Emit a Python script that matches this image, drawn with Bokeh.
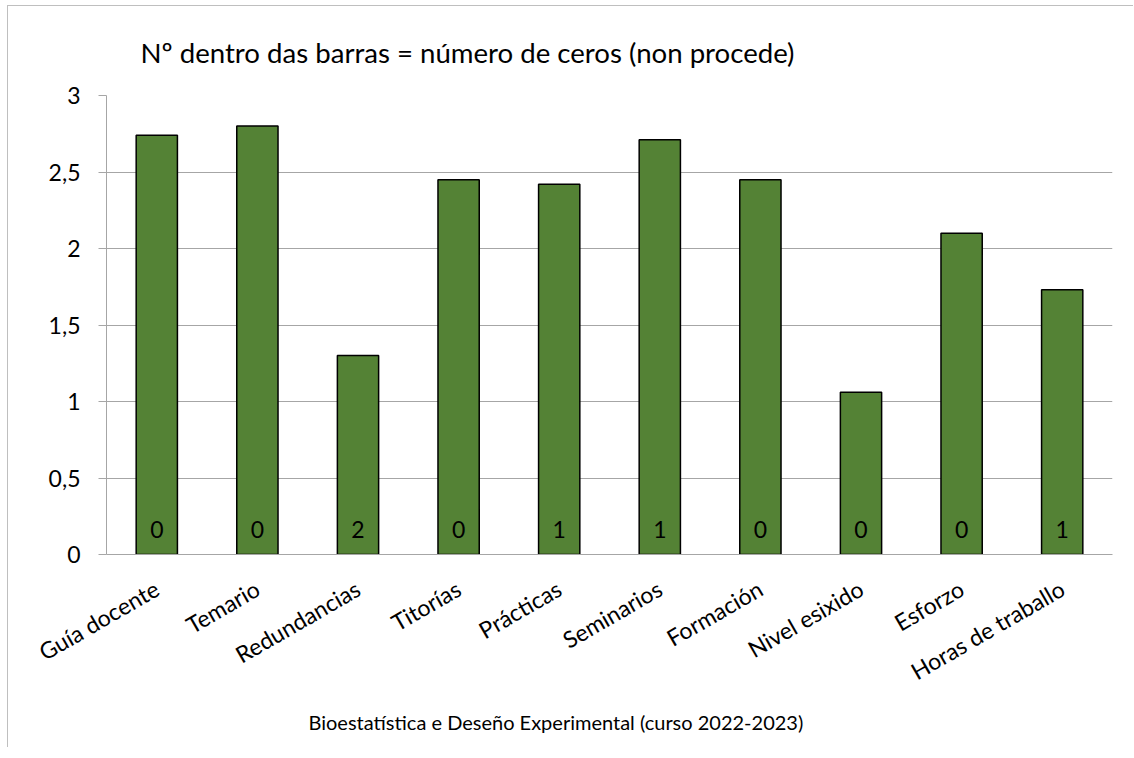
import math
from bokeh.plotting import figure
from bokeh.models import ColumnDataSource, LabelSet, Title, FactorRange, Range1d, FixedTicker
from bokeh.core.properties import value
from bokeh.embed import file_html
from bokeh.resources import INLINE

categories = ["Guía docente", "Temario", "Redundancias", "Titorías", "Prácticas",
              "Seminarios", "Formación", "Nivel esixido", "Esforzo", "Horas de traballo"]
values = [2.74, 2.80, 1.30, 2.45, 2.42, 2.71, 2.45, 1.06, 2.10, 1.73]
zeros = [0, 0, 2, 0, 1, 1, 0, 0, 0, 1]
ytick_values = [0, 0.5, 1, 1.5, 2, 2.5, 3]
ytick_labels = ["0", "0,5", "1", "1,5", "2", "2,5", "3"]
title_text = "Nº dentro das barras = número de ceros (non procede)"
xaxis_title = "Bioestatística e Deseño Experimental (curso 2022-2023)"

FONT = "Lato"
FS = "23px"

src = ColumnDataSource(dict(
    cat=categories, val=values, zeros=[str(z) for z in zeros], base=[0] * len(categories)))

p = figure(x_range=FactorRange(factors=categories, range_padding=0),
           y_range=Range1d(0, 3), width=1126, height=742,
           output_backend="svg", toolbar_location=None,
           min_border_left=98, min_border_right=22, min_border_top=88, min_border_bottom=194)

p.vbar(x="cat", top="val", width=0.41, source=src,
       fill_color="#548235", line_color="#000000", line_width=1.5)

labels = LabelSet(x="cat", y="base", text="zeros", source=src, text_align="center",
                  text_baseline="alphabetic", y_offset=17, text_font=value(FONT),
                  text_font_size=value(FS), text_color="#000000")
p.add_layout(labels)

p.title.text = title_text
p.title.align = "left"
p.title.offset = 34
p.title.standoff = 54
p.title.text_font = FONT
p.title.text_font_size = "27.6px"
p.title.text_font_style = "normal"
p.title.text_color = "#000000"

xt = Title(text=xaxis_title, align="left", offset=202, standoff=15,
           text_font=FONT, text_font_size="20px", text_font_style="normal",
           text_color="#000000")
p.add_layout(xt, "below")

p.outline_line_color = None
p.xgrid.visible = False
p.ygrid.grid_line_color = "#a6a6a6"
p.ygrid.grid_line_width = 1.2

p.yaxis.ticker = FixedTicker(ticks=ytick_values)
p.yaxis.major_label_overrides = {v: l for v, l in zip(ytick_values, ytick_labels)}
p.yaxis.axis_line_color = "#a6a6a6"
p.yaxis.major_tick_line_color = "#a6a6a6"
p.yaxis.major_tick_out = 8
p.yaxis.major_tick_in = 0
p.yaxis.minor_tick_line_color = None
p.yaxis.major_label_standoff = 18
p.yaxis.major_label_text_font = FONT
p.yaxis.major_label_text_font_size = FS
p.yaxis.major_label_text_color = "#000000"

p.xaxis.axis_line_color = "#a6a6a6"
p.xaxis.major_tick_line_color = None
p.xaxis.minor_tick_line_color = None
p.xaxis.major_label_orientation = math.pi / 6
p.xaxis.major_label_standoff = 26
p.xaxis.major_label_text_font = FONT
p.xaxis.major_label_text_font_size = FS
p.xaxis.major_label_text_color = "#000000"

p.styles = {"border-left": "1px solid #bfbfbf", "border-top": "1px solid #bfbfbf",
            "margin-left": "7px", "margin-top": "5px"}

open("out.html", "w").write(file_html(p, INLINE))
